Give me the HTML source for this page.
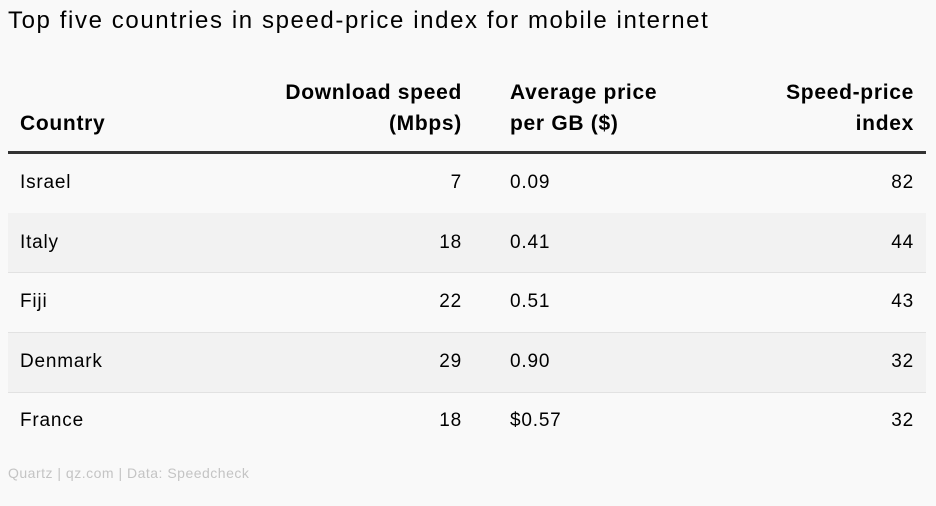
<!DOCTYPE html>
<html><head><style>
body{margin:0;width:936px;height:506px;background:#f9f9f9;font-family:"Liberation Sans",sans-serif;color:#000;position:relative;overflow:hidden}
.a{position:absolute;white-space:nowrap}
.t{left:8px;top:7px;font-size:24px;letter-spacing:1.6px}
.h{font-weight:bold;font-size:21px;line-height:31px;letter-spacing:0.7px}
.c{font-size:19px;letter-spacing:0.8px}
.row{position:absolute;left:8px;width:918px;height:59px;border-bottom:1px solid #e2e2e2}
.s{background:#f2f2f2}
</style></head><body>
<div class="a t">Top five countries in speed-price index for mobile internet</div>
<div class="a h" style="left:20px;top:108px">Country</div>
<div class="a h" style="right:474px;top:77px;text-align:right">Download speed<br>(Mbps)</div>
<div class="a h" style="left:510px;top:77px">Average price<br>per GB ($)</div>
<div class="a h" style="right:22px;top:77px;text-align:right">Speed-price<br>index</div>
<div class="a" style="left:8px;top:151px;width:918px;height:3px;background:#333"></div>
<div class="row" style="top:154px"></div>
<div class="row s" style="top:213px"></div>
<div class="row" style="top:273px"></div>
<div class="row s" style="top:333px"></div>
<div class="a c" style="left:20px;top:172px">Israel</div><div class="a c" style="right:474px;top:172px">7</div><div class="a c" style="left:510px;top:172px">0.09</div><div class="a c" style="right:22px;top:172px">82</div>
<div class="a c" style="left:20px;top:232px">Italy</div><div class="a c" style="right:474px;top:232px">18</div><div class="a c" style="left:510px;top:232px">0.41</div><div class="a c" style="right:22px;top:232px">44</div>
<div class="a c" style="left:20px;top:291px">Fiji</div><div class="a c" style="right:474px;top:291px">22</div><div class="a c" style="left:510px;top:291px">0.51</div><div class="a c" style="right:22px;top:291px">43</div>
<div class="a c" style="left:20px;top:351px">Denmark</div><div class="a c" style="right:474px;top:351px">29</div><div class="a c" style="left:510px;top:351px">0.90</div><div class="a c" style="right:22px;top:351px">32</div>
<div class="a c" style="left:20px;top:410px">France</div><div class="a c" style="right:474px;top:410px">18</div><div class="a c" style="left:510px;top:410px">$0.57</div><div class="a c" style="right:22px;top:410px">32</div>
<div class="a" style="left:8px;top:465px;font-size:14px;letter-spacing:0.5px;color:#c4c4c4">Quartz | qz.com | Data: Speedcheck</div>
</body></html>
